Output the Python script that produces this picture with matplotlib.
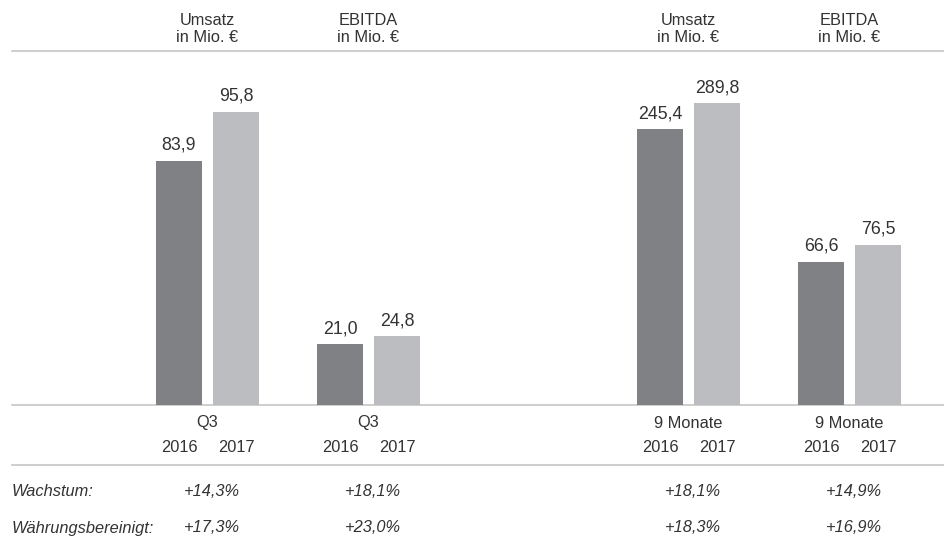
import matplotlib
matplotlib.use("Agg")
import matplotlib.pyplot as plt
import numpy as np

plt.rcParams['font.family'] = ['Liberation Sans', 'DejaVu Sans']

# daten
headers = ["Umsatz\nin Mio. €", "EBITDA\nin Mio. €", "Umsatz\nin Mio. €", "EBITDA\nin Mio. €"]
periods = ["Q3", "Q3", "9 Monate", "9 Monate"]
years = ["2016", "2017"]
values_2016 = [83.9, 21.0, 245.4, 66.6]
values_2017 = [95.8, 24.8, 289.8, 76.5]
wachstum = ["+14,3%", "+18,1%", "+18,1%", "+14,9%"]
bereinigt = ["+17,3%", "+23,0%", "+18,3%", "+16,9%"]
row_labels = ["Wachstum:", "Währungsbereinigt:"]

# Skala je Panel (die Vorlage ist nicht maßstabsgetreu)
panel_ylim = [(24.6, 109.6), (-8.0, 158.3), (-225.9, 371.8), (-16.7, 187.1)]
panel_x = [179, 340, 660, 821]  # Mitte des 2016-Balkens in px

W, H = 944, 542
c_dark = "#808184"
c_light = "#bcbdc0"
c_text = "#333333"
c_line = "#c6c6c6"
fs = 11.8

fig = plt.figure(figsize=(W / 100, H / 100), dpi=100)
bg = fig.add_axes([0, 0, 1, 1])
bg.set_xlim(0, W)
bg.set_ylim(H, 0)
bg.axis('off')

# Linien
for y in [51, 405, 465]:
    bg.plot([12, W], [y, y], color=c_line, lw=1.2, zorder=1)

step = 57
base_y, top_y = 405, 55
for i in range(4):
    x0 = panel_x[i]
    mid = x0 + step / 2
    ax = fig.add_axes([(x0 - 0.75 * step) / W, (H - base_y) / H,
                       2.5 * step / W, (base_y - top_y) / H])
    ax.set_xlim(-0.75, 1.75)
    lo, hi = panel_ylim[i]
    ax.set_ylim(lo, hi)
    ax.axis('off')
    vals = [values_2016[i], values_2017[i]]
    ax.bar([0, 1], np.array(vals) - lo, bottom=lo, width=46 / step,
           color=[c_dark, c_light], zorder=2)
    for j, v in enumerate(vals):
        ax.annotate(f"{v:.1f}".replace('.', ','), (j, v), xytext=(0, 5),
                    textcoords='offset points', ha='center', va='bottom',
                    fontsize=12.8, color=c_text)

    bg.text(mid, 29, headers[i], ha='center', va='center', fontsize=fs,
            color=c_text, linespacing=1.2)
    bg.text(mid, 423, periods[i], ha='center', va='center', fontsize=fs, color=c_text)
    for j in range(2):
        bg.text(x0 + j * step, 447, years[j], ha='center', va='center',
                fontsize=fs, color=c_text)
    bg.text(mid + 4, 491, wachstum[i], ha='center', va='center', fontsize=fs,
            color=c_text, style='italic')
    bg.text(mid + 4, 528, bereinigt[i], ha='center', va='center', fontsize=fs,
            color=c_text, style='italic')

bg.text(12, 491, row_labels[0], ha='left', va='center', fontsize=fs,
        color=c_text, style='italic')
bg.text(12, 528, row_labels[1], ha='left', va='center', fontsize=fs,
        color=c_text, style='italic')

fig.savefig("out.png", dpi=100)
